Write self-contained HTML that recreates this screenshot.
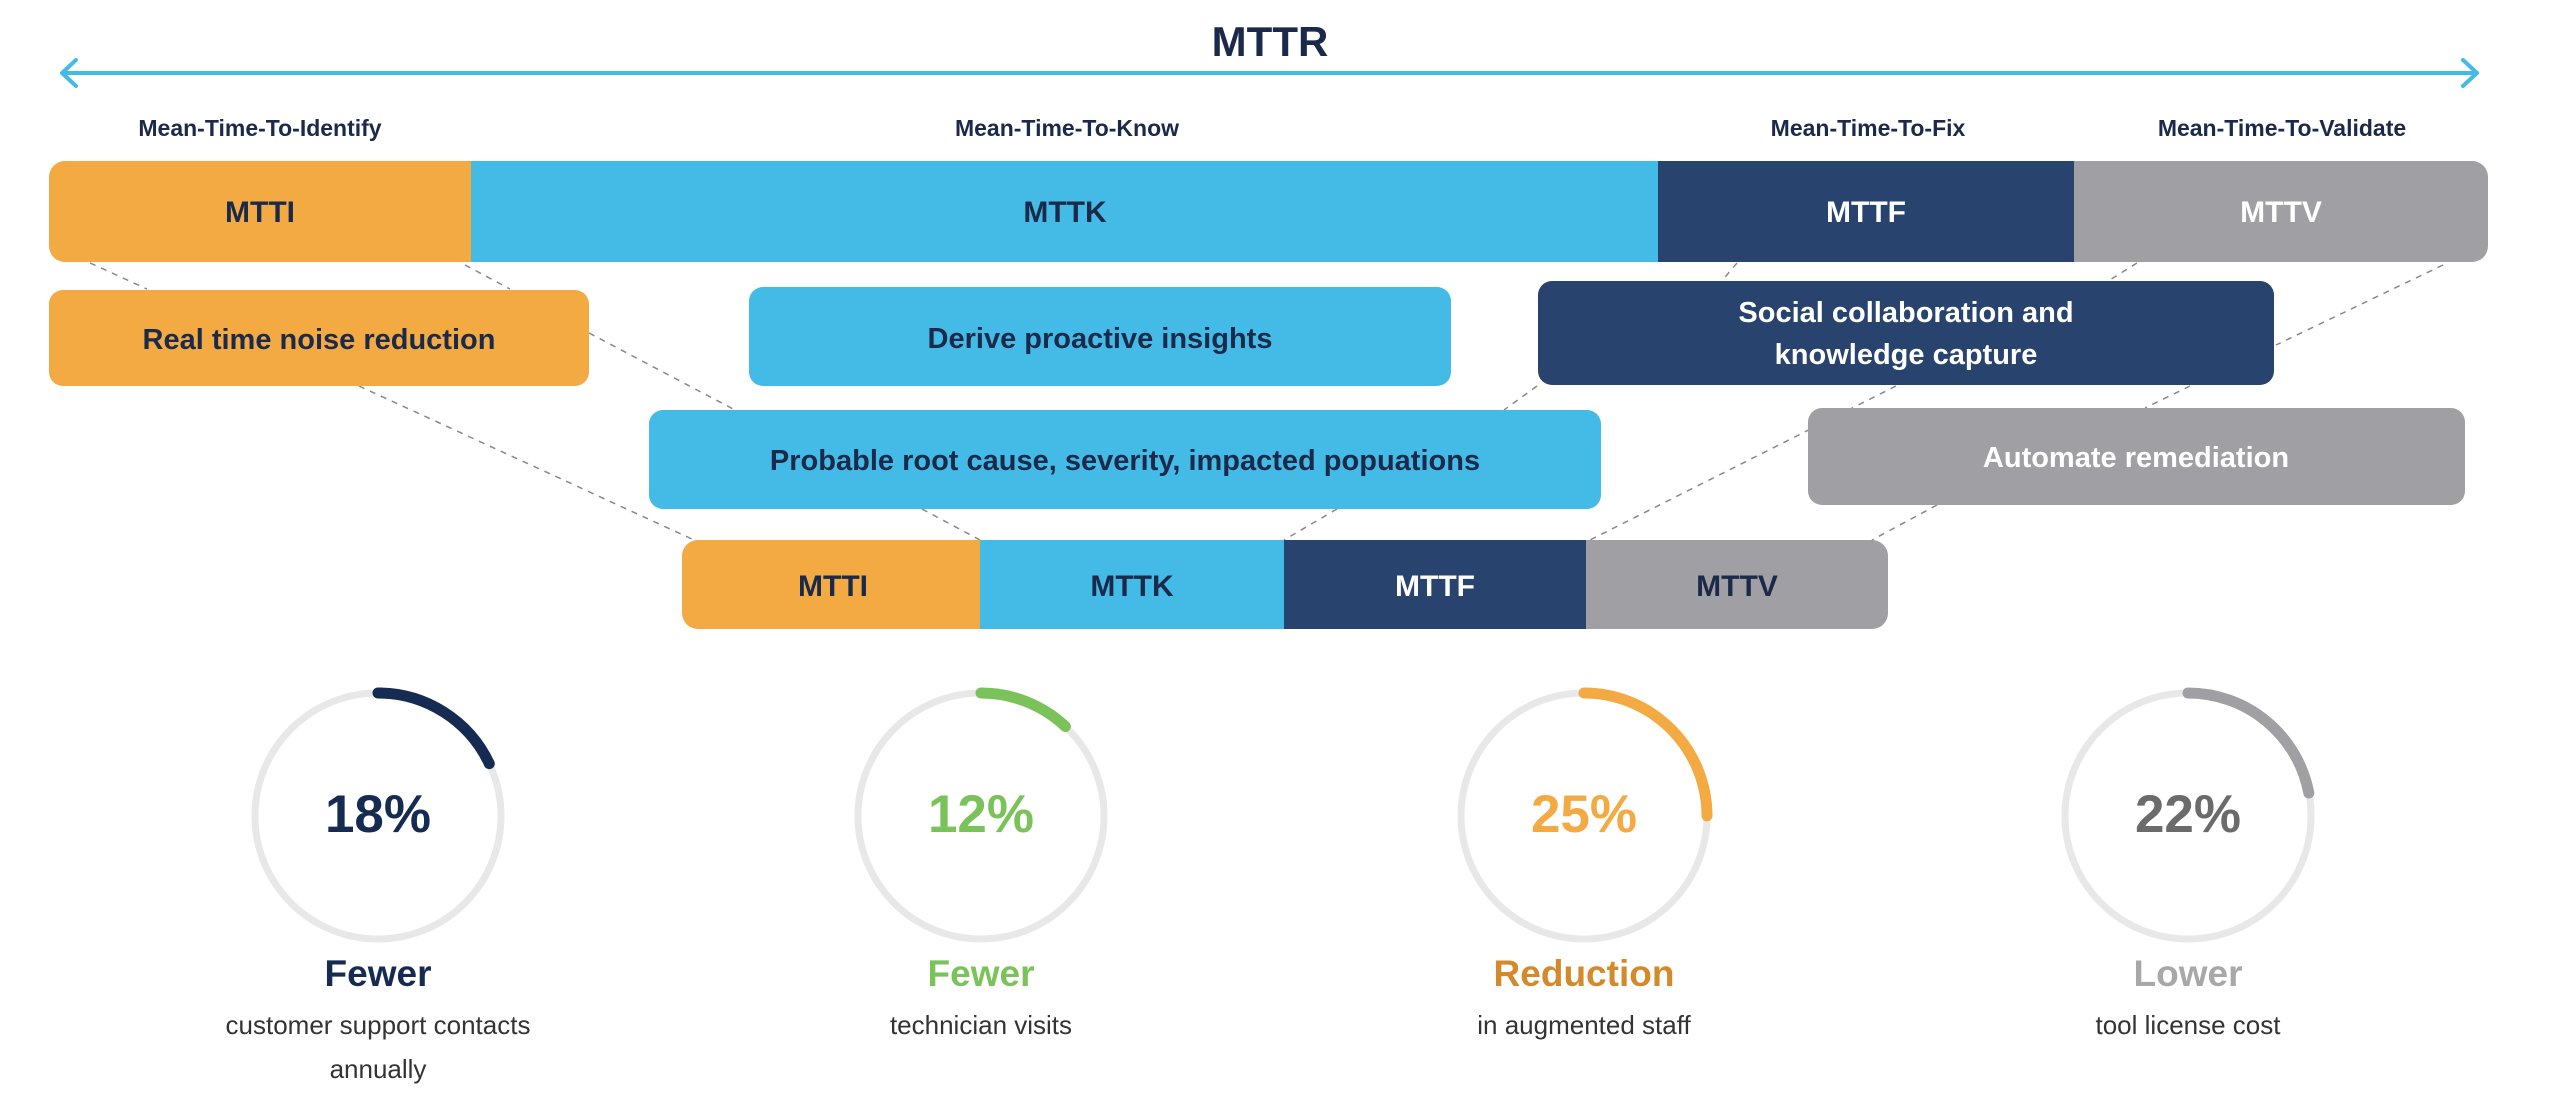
<!DOCTYPE html>
<html><head><meta charset="utf-8"><style>
html,body{margin:0;padding:0;background:#fff;}
svg{display:block;}
text{font-family:"Liberation Sans",sans-serif;font-weight:bold;}
</style></head><body>
<svg width="2560" height="1105" viewBox="0 0 2560 1105" xmlns="http://www.w3.org/2000/svg">
<defs>
<clipPath id="top"><rect x="49" y="161" width="2439" height="101" rx="16"/></clipPath>
<clipPath id="bot"><rect x="682" y="540" width="1206" height="89" rx="16"/></clipPath>
</defs>
<!-- MTTR -->
<text x="1270" y="56" font-size="42" fill="#1B2A4A" text-anchor="middle">MTTR</text>
<line x1="62" y1="73" x2="2476" y2="73" stroke="#44BBE6" stroke-width="4"/>
<polyline points="76,60 62,73 76,86" fill="none" stroke="#44BBE6" stroke-width="4" stroke-linecap="round" stroke-linejoin="round"/>
<polyline points="2463,60 2477,73 2463,86" fill="none" stroke="#44BBE6" stroke-width="4" stroke-linecap="round" stroke-linejoin="round"/>
<!-- labels -->
<g font-size="23" fill="#1B2A4A" text-anchor="middle">
<text x="260" y="136">Mean-Time-To-Identify</text>
<text x="1067" y="136">Mean-Time-To-Know</text>
<text x="1868" y="136">Mean-Time-To-Fix</text>
<text x="2282" y="136">Mean-Time-To-Validate</text>
</g>
<!-- top bar -->
<g clip-path="url(#top)">
<rect x="49" y="161" width="422" height="101" fill="#F3AA42"/>
<rect x="471" y="161" width="1187" height="101" fill="#44BBE6"/>
<rect x="1658" y="161" width="416" height="101" fill="#27436E"/>
<rect x="2074" y="161" width="414" height="101" fill="#A09FA3"/>
</g>
<g font-size="30" text-anchor="middle">
<text x="260" y="222" fill="#1B2A4A">MTTI</text>
<text x="1065" y="222" fill="#1B2A4A">MTTK</text>
<text x="1866" y="222" fill="#fff">MTTF</text>
<text x="2281" y="222" fill="#fff">MTTV</text>
</g>
<!-- dashed connectors -->
<g stroke="#888" stroke-width="1.5" stroke-dasharray="6,6" fill="none">
<line x1="90" y1="263" x2="147" y2="289"/>
<line x1="465" y1="265" x2="510" y2="289"/>
<line x1="589" y1="333" x2="735" y2="410"/>
<line x1="359" y1="386" x2="694" y2="540"/>
<line x1="922" y1="509" x2="980" y2="540"/>
<line x1="1737" y1="263" x2="1720" y2="283"/>
<line x1="2137" y1="263" x2="2105" y2="283"/>
<line x1="2443" y1="265" x2="2276" y2="345"/>
<line x1="2190" y1="386" x2="2145" y2="408"/>
<line x1="1537" y1="386" x2="1504" y2="410"/>
<line x1="1896" y1="386" x2="1590" y2="540"/>
<line x1="1937" y1="505" x2="1872" y2="540"/>
<line x1="1337" y1="509" x2="1284" y2="540"/>
</g>
<!-- middle boxes -->
<rect x="49" y="290" width="540" height="96" rx="14" fill="#F3AA42"/>
<text x="319" y="349" font-size="29" fill="#1B2A4A" text-anchor="middle">Real time noise reduction</text>
<rect x="749" y="287" width="702" height="99" rx="14" fill="#44BBE6"/>
<text x="1100" y="348" font-size="29" fill="#1B2A4A" text-anchor="middle">Derive proactive insights</text>
<rect x="1538" y="281" width="736" height="104" rx="14" fill="#27436E"/>
<text x="1906" y="322" font-size="29" fill="#fff" text-anchor="middle">Social collaboration and</text>
<text x="1906" y="364" font-size="29" fill="#fff" text-anchor="middle">knowledge capture</text>
<rect x="649" y="410" width="952" height="99" rx="14" fill="#44BBE6"/>
<text x="1125" y="470" font-size="29" fill="#1B2A4A" text-anchor="middle">Probable root cause, severity, impacted popuations</text>
<rect x="1808" y="408" width="657" height="97" rx="14" fill="#A09FA3"/>
<text x="2136" y="467" font-size="29" fill="#fff" text-anchor="middle">Automate remediation</text>
<!-- bottom bar -->
<g clip-path="url(#bot)">
<rect x="682" y="540" width="298" height="89" fill="#F3AA42"/>
<rect x="980" y="540" width="304" height="89" fill="#44BBE6"/>
<rect x="1284" y="540" width="302" height="89" fill="#27436E"/>
<rect x="1586" y="540" width="302" height="89" fill="#A09FA3"/>
</g>
<g font-size="30" text-anchor="middle">
<text x="833" y="596" fill="#1B2A4A">MTTI</text>
<text x="1132" y="596" fill="#1B2A4A">MTTK</text>
<text x="1435" y="596" fill="#fff">MTTF</text>
<text x="1737" y="596" fill="#1B2A4A">MTTV</text>
</g>
<!-- circles -->
<g fill="none" stroke="#E8E8E8" stroke-width="7">
<circle cx="378" cy="816" r="123"/>
<circle cx="981" cy="816" r="123"/>
<circle cx="1584" cy="816" r="123"/>
<circle cx="2188" cy="816" r="123"/>
</g>
<g fill="none" stroke-width="11" stroke-linecap="round" transform="rotate(-90)">
<circle cx="-816" cy="378" r="123" stroke="#162B52" stroke-dasharray="139 1000"/>
<circle cx="-816" cy="981" r="123" stroke="#7AC25A" stroke-dasharray="93 1000"/>
<circle cx="-816" cy="1584" r="123" stroke="#F3AA42" stroke-dasharray="193 1000"/>
<circle cx="-816" cy="2188" r="123" stroke="#A09FA3" stroke-dasharray="170 1000"/>
</g>
<g font-size="53" text-anchor="middle">
<text x="378" y="832" fill="#162B52">18%</text>
<text x="981" y="832" fill="#7AC25A">12%</text>
<text x="1584" y="832" fill="#F3AA42">25%</text>
<text x="2188" y="832" fill="#6B6B6B">22%</text>
</g>
<g font-size="37" text-anchor="middle">
<text x="378" y="986" fill="#162B52">Fewer</text>
<text x="981" y="986" fill="#7AC25A">Fewer</text>
<text x="1584" y="986" fill="#D4892A">Reduction</text>
<text x="2188" y="986" fill="#A8A8A8">Lower</text>
</g>
<g font-size="26" text-anchor="middle" fill="#333" style="font-weight:normal">
<text x="378" y="1034" style="font-weight:normal">customer support contacts</text>
<text x="378" y="1078" style="font-weight:normal">annually</text>
<text x="981" y="1034" style="font-weight:normal">technician visits</text>
<text x="1584" y="1034" style="font-weight:normal">in augmented staff</text>
<text x="2188" y="1034" style="font-weight:normal">tool license cost</text>
</g>
</svg>
</body></html>
